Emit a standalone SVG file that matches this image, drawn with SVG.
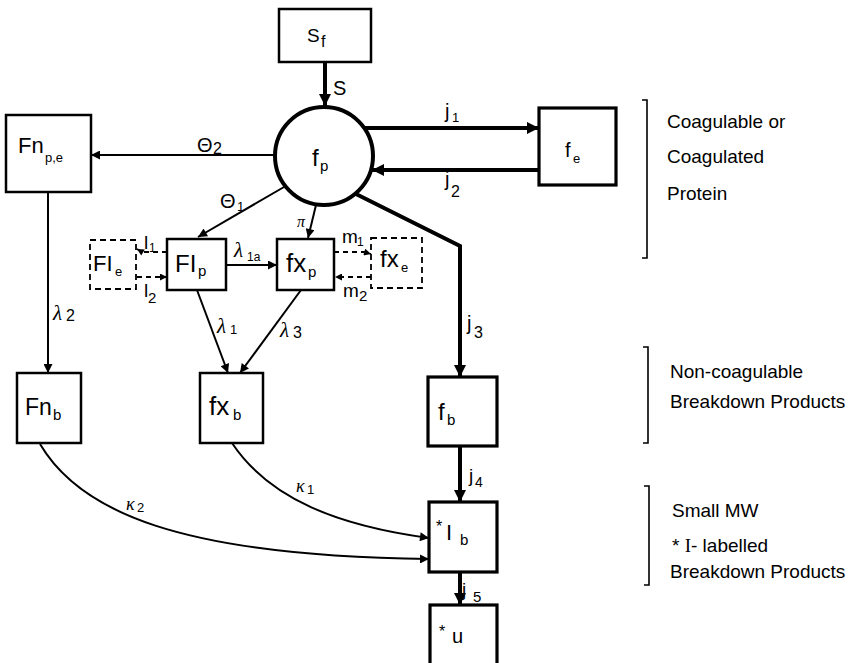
<svg xmlns="http://www.w3.org/2000/svg" width="855" height="663" viewBox="0 0 855 663">
<style>
text{font-family:"Liberation Sans",Arial,sans-serif;fill:#000}
.box{fill:none;stroke:#000;stroke-width:2.5}
.tbox{fill:none;stroke:#000;stroke-width:3.2}
.dbox{fill:none;stroke:#000;stroke-width:1.8;stroke-dasharray:6,4}
.ln{fill:none;stroke:#000;stroke-width:2}
.thk{fill:none;stroke:#000;stroke-width:4}
.dl{fill:none;stroke:#000;stroke-width:1.8;stroke-dasharray:5,4}
.br{fill:none;stroke:#000;stroke-width:1.6}
.m{font-size:24px}
.s{font-size:15px}
.g{font-family:"Liberation Serif","Times New Roman",serif;font-style:italic}
.r{font-size:19px}
</style>
<defs>
<marker id="a" viewBox="0 0 10 10" refX="10" refY="5" markerWidth="12" markerHeight="9" markerUnits="userSpaceOnUse" orient="auto"><path d="M0,0 L10,5 L0,10 z" fill="#000"/></marker>
<marker id="ab" viewBox="0 0 10 10" refX="10" refY="5" markerWidth="14" markerHeight="12" markerUnits="userSpaceOnUse" orient="auto"><path d="M0,0 L10,5 L0,10 z" fill="#000"/></marker>
<marker id="as" viewBox="0 0 10 10" refX="10" refY="5" markerWidth="8" markerHeight="7" markerUnits="userSpaceOnUse" orient="auto"><path d="M0,0 L10,5 L0,10 z" fill="#000"/></marker>
</defs>

<g id="connectors">
<line class="thk" x1="325" y1="62" x2="325" y2="106" marker-end="url(#ab)"/>
<line class="thk" x1="364" y1="128" x2="539" y2="128" marker-end="url(#ab)"/>
<line class="thk" x1="539" y1="170" x2="372" y2="170" marker-end="url(#ab)"/>
<line class="ln" x1="275" y1="155" x2="91" y2="155" marker-end="url(#a)"/>
<line class="ln" x1="284" y1="187" x2="198" y2="237" marker-end="url(#a)"/>
<line class="ln" x1="316" y1="205" x2="308" y2="238" marker-end="url(#a)"/>
<polyline class="thk" points="356,194 460,246 460,377" marker-end="url(#ab)"/>
<line class="ln" x1="226" y1="265" x2="277" y2="265" marker-end="url(#a)"/>
<line class="ln" x1="197" y1="290" x2="228" y2="373" marker-end="url(#a)"/>
<line class="ln" x1="301" y1="290" x2="240" y2="373" marker-end="url(#a)"/>
<line class="ln" x1="48" y1="192" x2="48" y2="373" marker-end="url(#a)"/>
<line class="thk" x1="460" y1="446" x2="460" y2="502" marker-end="url(#ab)"/>
<line class="thk" x1="460" y1="572" x2="460" y2="605" marker-end="url(#ab)"/>
<path class="dl" d="M167,252 H142 L137,249" marker-end="url(#as)"/>
<path class="dl" d="M137,277 H167" marker-end="url(#as)"/>
<path class="dl" d="M334,252 H364 L371,254" marker-end="url(#as)"/>
<path class="dl" d="M371,277 H335" marker-end="url(#as)"/>
<path class="ln" d="M232,443 C270,500 340,526 429,538" marker-end="url(#a)"/>
<path class="ln" d="M40,444 C80,512 180,556 429,559" marker-end="url(#a)"/>
</g>

<g id="labels">
<text x="333" y="95" font-size="20">S</text>
<text x="445" y="118" font-size="20">j<tspan font-size="13" x="452" y="122">1</tspan></text>
<text x="445" y="186" font-size="20">j<tspan font-size="16" x="451" y="197">2</tspan></text>
<text x="197" y="152" font-size="20">Θ<tspan font-size="16" x="213" y="154">2</tspan></text>
<text x="220" y="208" font-size="20">Θ<tspan font-size="13" x="237" y="211">1</tspan></text>
<text x="297" y="227" font-size="16" class="g">π</text>
<text x="144" y="249" font-size="19">l<tspan font-size="12" x="149" y="252">1</tspan></text>
<text x="144" y="297" font-size="19">l<tspan font-size="15" x="148" y="303">2</tspan></text>
<text x="234" y="257" font-size="21" class="g">λ</text><text x="247" y="261" font-size="12">1a</text>
<text x="342" y="243" font-size="19">m<tspan font-size="12" x="357" y="246">1</tspan></text>
<text x="343" y="297" font-size="19">m<tspan font-size="15" x="359" y="301">2</tspan></text>
<text x="53" y="320" font-size="21" class="g">λ</text><text x="66" y="321" font-size="16">2</text>
<text x="217" y="333" font-size="21" class="g">λ</text><text x="230" y="334" font-size="13">1</text>
<text x="280" y="337" font-size="21" class="g">λ</text><text x="293" y="338" font-size="16">3</text>
<text x="467" y="330" font-size="20">j<tspan font-size="16" x="474" y="338">3</tspan></text>
<text x="469" y="482" font-size="19">j<tspan font-size="14" x="475" y="487">4</tspan></text>
<text x="462" y="596" font-size="19">j<tspan font-size="15" x="473" y="602">5</tspan></text>
<text x="126" y="510" font-size="18" class="g">κ</text><text x="137" y="512" font-size="13">2</text>
<text x="296" y="492" font-size="18" class="g">κ</text><text x="307" y="494" font-size="13">1</text>
</g>

<g id="Sf"><rect class="box" x="279" y="9" width="92" height="53"/><text x="307" y="42" font-size="19">S<tspan font-size="16" x="321" y="47">f</tspan></text></g>
<g id="fp"><circle cx="324" cy="156" r="49" fill="none" stroke="#000" stroke-width="4"/><text x="312" y="166" class="m">f<tspan class="s" x="320" y="171">p</tspan></text></g>
<g id="fe"><rect class="tbox" x="539" y="108" width="77" height="77"/><text x="565" y="157" font-size="20">f<tspan font-size="13" x="573" y="163">e</tspan></text></g>
<g id="Fnpe"><rect class="box" x="6" y="115" width="85" height="77"/><text x="18" y="153" font-size="22">Fn<tspan font-size="13" x="45" y="162">p,e</tspan></text></g>
<g id="FIe"><rect class="dbox" x="90" y="240" width="46" height="49"/><text x="93" y="271" font-size="22">FI<tspan font-size="13" x="115" y="276">e</tspan></text></g>
<g id="FIp"><rect class="box" x="167" y="239" width="59" height="51"/><text x="175" y="272" font-size="24">FI<tspan class="s" x="198" y="276">p</tspan></text></g>
<g id="fxp"><rect class="box" x="277" y="239" width="57" height="51"/><text x="286" y="272" font-size="26">fx<tspan class="s" x="308" y="277">p</tspan></text></g>
<g id="fxe"><rect class="dbox" x="371" y="238" width="51" height="50"/><text x="380" y="267" font-size="24">fx<tspan font-size="13" x="401" y="272">e</tspan></text></g>
<g id="Fnb"><rect class="box" x="17" y="373" width="64" height="70"/><text x="25" y="415" font-size="23">Fn<tspan class="s" x="53" y="420">b</tspan></text></g>
<g id="fxb"><rect class="box" x="200" y="373" width="63" height="70"/><text x="209" y="415" font-size="26">fx<tspan class="s" x="233" y="420">b</tspan></text></g>
<g id="fb"><rect class="tbox" x="428" y="377" width="69" height="69"/><text x="438" y="420" class="m">f<tspan class="s" x="447" y="425">b</tspan></text></g>
<g id="Ib"><rect class="tbox" x="429" y="502" width="68" height="70"/><text x="436" y="532" font-size="16">*</text><text x="446" y="540" font-size="22" font-family="Liberation Serif,serif">I</text><text x="460" y="545" class="s">b</text></g>
<g id="u"><rect class="tbox" x="430" y="605" width="67" height="62"/><text x="439" y="637" font-size="16">*</text><text x="452" y="643" font-size="20">u</text></g>

<g id="brackets">
<path class="br" d="M642,100 H647 V258 H642"/>
<path class="br" d="M643,347 H648 V443 H643"/>
<path class="br" d="M644,486 H649 V585 H644"/>
<text x="667" y="128" class="r">Coagulable  or</text>
<text x="667" y="163" class="r">Coagulated</text>
<text x="667" y="200" class="r">Protein</text>
<text x="670" y="378" class="r">Non-coagulable</text>
<text x="670" y="408" class="r">Breakdown  Products</text>
<text x="672" y="517" class="r">Small  MW</text>
<text x="672" y="552" class="r">* <tspan font-family="Liberation Serif,serif">I</tspan>- labelled</text>
<text x="670" y="578" class="r">Breakdown  Products</text>
</g>
</svg>
